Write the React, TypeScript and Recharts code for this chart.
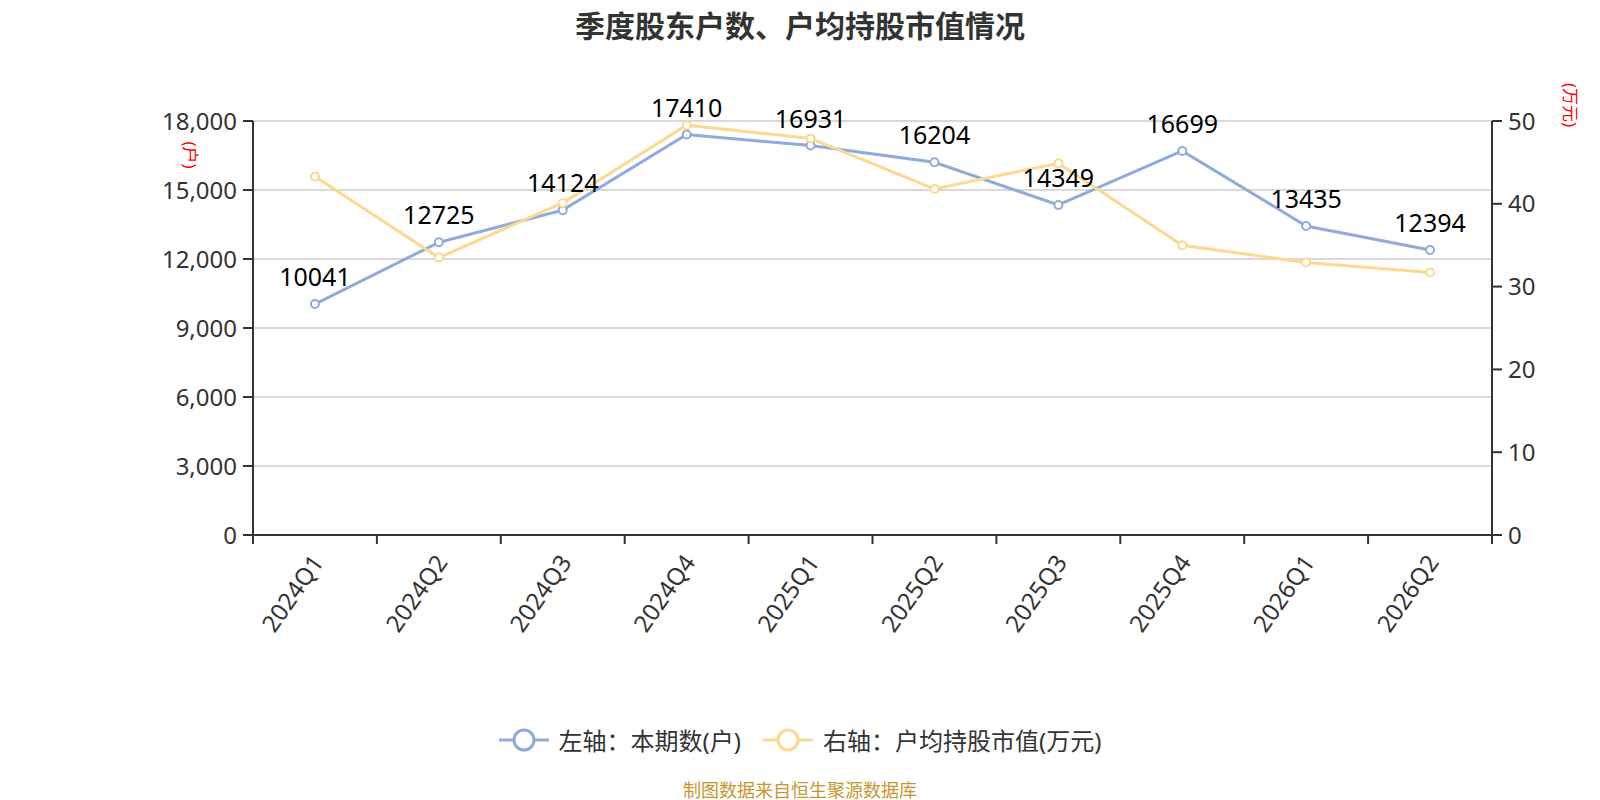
import React from "react";
import {
  LineChart,
  Line,
  XAxis,
  YAxis,
  CartesianGrid,
  LabelList,
} from "recharts";

const quarters = [
  "2024Q1",
  "2024Q2",
  "2024Q3",
  "2024Q4",
  "2025Q1",
  "2025Q2",
  "2025Q3",
  "2025Q4",
  "2026Q1",
  "2026Q2",
];
const holderCounts = [10041, 12725, 14124, 17410, 16931, 16204, 14349, 16699, 13435, 12394];
const avgHoldingValue = [43.3, 33.5, 40.1, 49.5, 47.9, 41.8, 44.9, 35.0, 32.9, 31.7];
const leftTicks = [0, 3000, 6000, 9000, 12000, 15000, 18000];
const rightTicks = [0, 10, 20, 30, 40, 50];

const BLUE = "#8FAADC";
const ORANGE = "#FFD88F";
const AXIS = "#333333";
const FONT = "'Noto Sans', 'Noto Sans CJK SC', sans-serif";

const data = quarters.map((q, i) => ({
  quarter: q,
  holders: holderCounts[i],
  avgValue: avgHoldingValue[i],
}));

const XTick = (props: any) => {
  const { x, y, payload, index, width, visibleTicksCount } = props;
  const step = width / visibleTicksCount;
  return (
    <g>
      <line x1={x - step / 2} x2={x - step / 2} y1={y - 9} y2={y} stroke={AXIS} strokeWidth={2} />
      {index === visibleTicksCount - 1 && (
        <line x1={x + step / 2} x2={x + step / 2} y1={y - 9} y2={y} stroke={AXIS} strokeWidth={2} />
      )}
      <text
        transform={`translate(${x + 2},${y + 13}) rotate(-55)`}
        textAnchor="end"
        dominantBaseline="central"
        fontSize={24}
        fill={AXIS}
        fontFamily={FONT}
      >
        {payload.value}
      </text>
    </g>
  );
};

const LegendIcon = ({ color }: { color: string }) => (
  <svg width={50} height={26} style={{ marginRight: 10 }}>
    <line x1={0} x2={50} y1={13} y2={13} stroke={color} strokeWidth={3} />
    <circle cx={25} cy={13} r={10} fill="#fff" stroke={color} strokeWidth={3} />
  </svg>
);

export default function App() {
  return (
    <div
      style={{
        position: "absolute",
        left: 0,
        top: 0,
        width: 1600,
        height: 800,
        background: "#fff",
        fontFamily: FONT,
      }}
    >
      <div
        style={{
          position: "absolute",
          top: 2,
          left: 0,
          width: 1600,
          textAlign: "center",
          fontSize: 30,
          fontWeight: "bold",
          color: "#333",
          fontFamily: "'Noto Sans CJK SC', sans-serif",
        }}
      >
        季度股东户数、户均持股市值情况
      </div>

      <LineChart
        width={1600}
        height={800}
        data={data}
        margin={{ top: 121, right: 8, bottom: 165, left: 153 }}
      >
        <CartesianGrid yAxisId="left" vertical={false} stroke="#CCCCCC" strokeWidth={1.3} />
        <XAxis
          dataKey="quarter"
          scale="band"
          interval={0}
          height={100}
          tickLine={false}
          tickSize={9}
          tickMargin={0}
          axisLine={{ stroke: AXIS, strokeWidth: 2 }}
          tick={<XTick />}
        />
        <YAxis
          yAxisId="left"
          width={100}
          domain={[0, 18000]}
          ticks={leftTicks}
          interval={0}
          tickFormatter={(v: number) => v.toLocaleString("en-US")}
          tick={{ fontSize: 24, fill: AXIS, fontFamily: FONT }}
          tickSize={10}
          tickMargin={6}
          tickLine={{ stroke: AXIS, strokeWidth: 2 }}
          axisLine={{ stroke: AXIS, strokeWidth: 2 }}
        />
        <YAxis
          yAxisId="right"
          orientation="right"
          width={100}
          domain={[0, 50]}
          ticks={rightTicks}
          interval={0}
          tick={{ fontSize: 24, fill: AXIS, fontFamily: FONT }}
          tickSize={10}
          tickMargin={6}
          tickLine={{ stroke: AXIS, strokeWidth: 2 }}
          axisLine={{ stroke: AXIS, strokeWidth: 2 }}
        />
        <Line
          yAxisId="left"
          dataKey="holders"
          stroke={BLUE}
          strokeWidth={3}
          dot={{ r: 4, fill: "#fff", stroke: BLUE, strokeWidth: 2 }}
          activeDot={false}
          isAnimationActive={false}
        >
          <LabelList
            dataKey="holders"
            position="top"
            offset={18}
            fill="#000"
            fontSize={25}
            fontFamily={FONT}
          />
        </Line>
        <Line
          yAxisId="right"
          dataKey="avgValue"
          stroke={ORANGE}
          strokeWidth={3}
          dot={{ r: 4, fill: "#fff", stroke: ORANGE, strokeWidth: 2 }}
          activeDot={false}
          isAnimationActive={false}
        />
      </LineChart>

      <div
        style={{
          position: "absolute",
          left: 191,
          top: 155,
          transform: "translate(-50%, -50%) rotate(90deg)",
          color: "#FF0000",
          fontSize: 17,
          whiteSpace: "nowrap",
        }}
      >
        (户)
      </div>
      <div
        style={{
          position: "absolute",
          left: 1571,
          top: 105,
          transform: "translate(-50%, -50%) rotate(90deg)",
          color: "#FF0000",
          fontSize: 17,
          whiteSpace: "nowrap",
        }}
      >
        (万元)
      </div>

      <div
        style={{
          position: "absolute",
          top: 722,
          left: 0,
          width: 1600,
          display: "flex",
          justifyContent: "center",
          alignItems: "center",
          fontSize: 24,
          color: "#333",
        }}
      >
        <div style={{ display: "flex", alignItems: "center", marginRight: 22 }}>
          <LegendIcon color={BLUE} />
          <span>左轴：本期数(户)</span>
        </div>
        <div style={{ display: "flex", alignItems: "center" }}>
          <LegendIcon color={ORANGE} />
          <span>右轴：户均持股市值(万元)</span>
        </div>
      </div>

      <div
        style={{
          position: "absolute",
          top: 781,
          left: 0,
          width: 1600,
          textAlign: "center",
          fontSize: 18,
          lineHeight: "18px",
          color: "#C8962E",
        }}
      >
        制图数据来自恒生聚源数据库
      </div>
    </div>
  );
}
